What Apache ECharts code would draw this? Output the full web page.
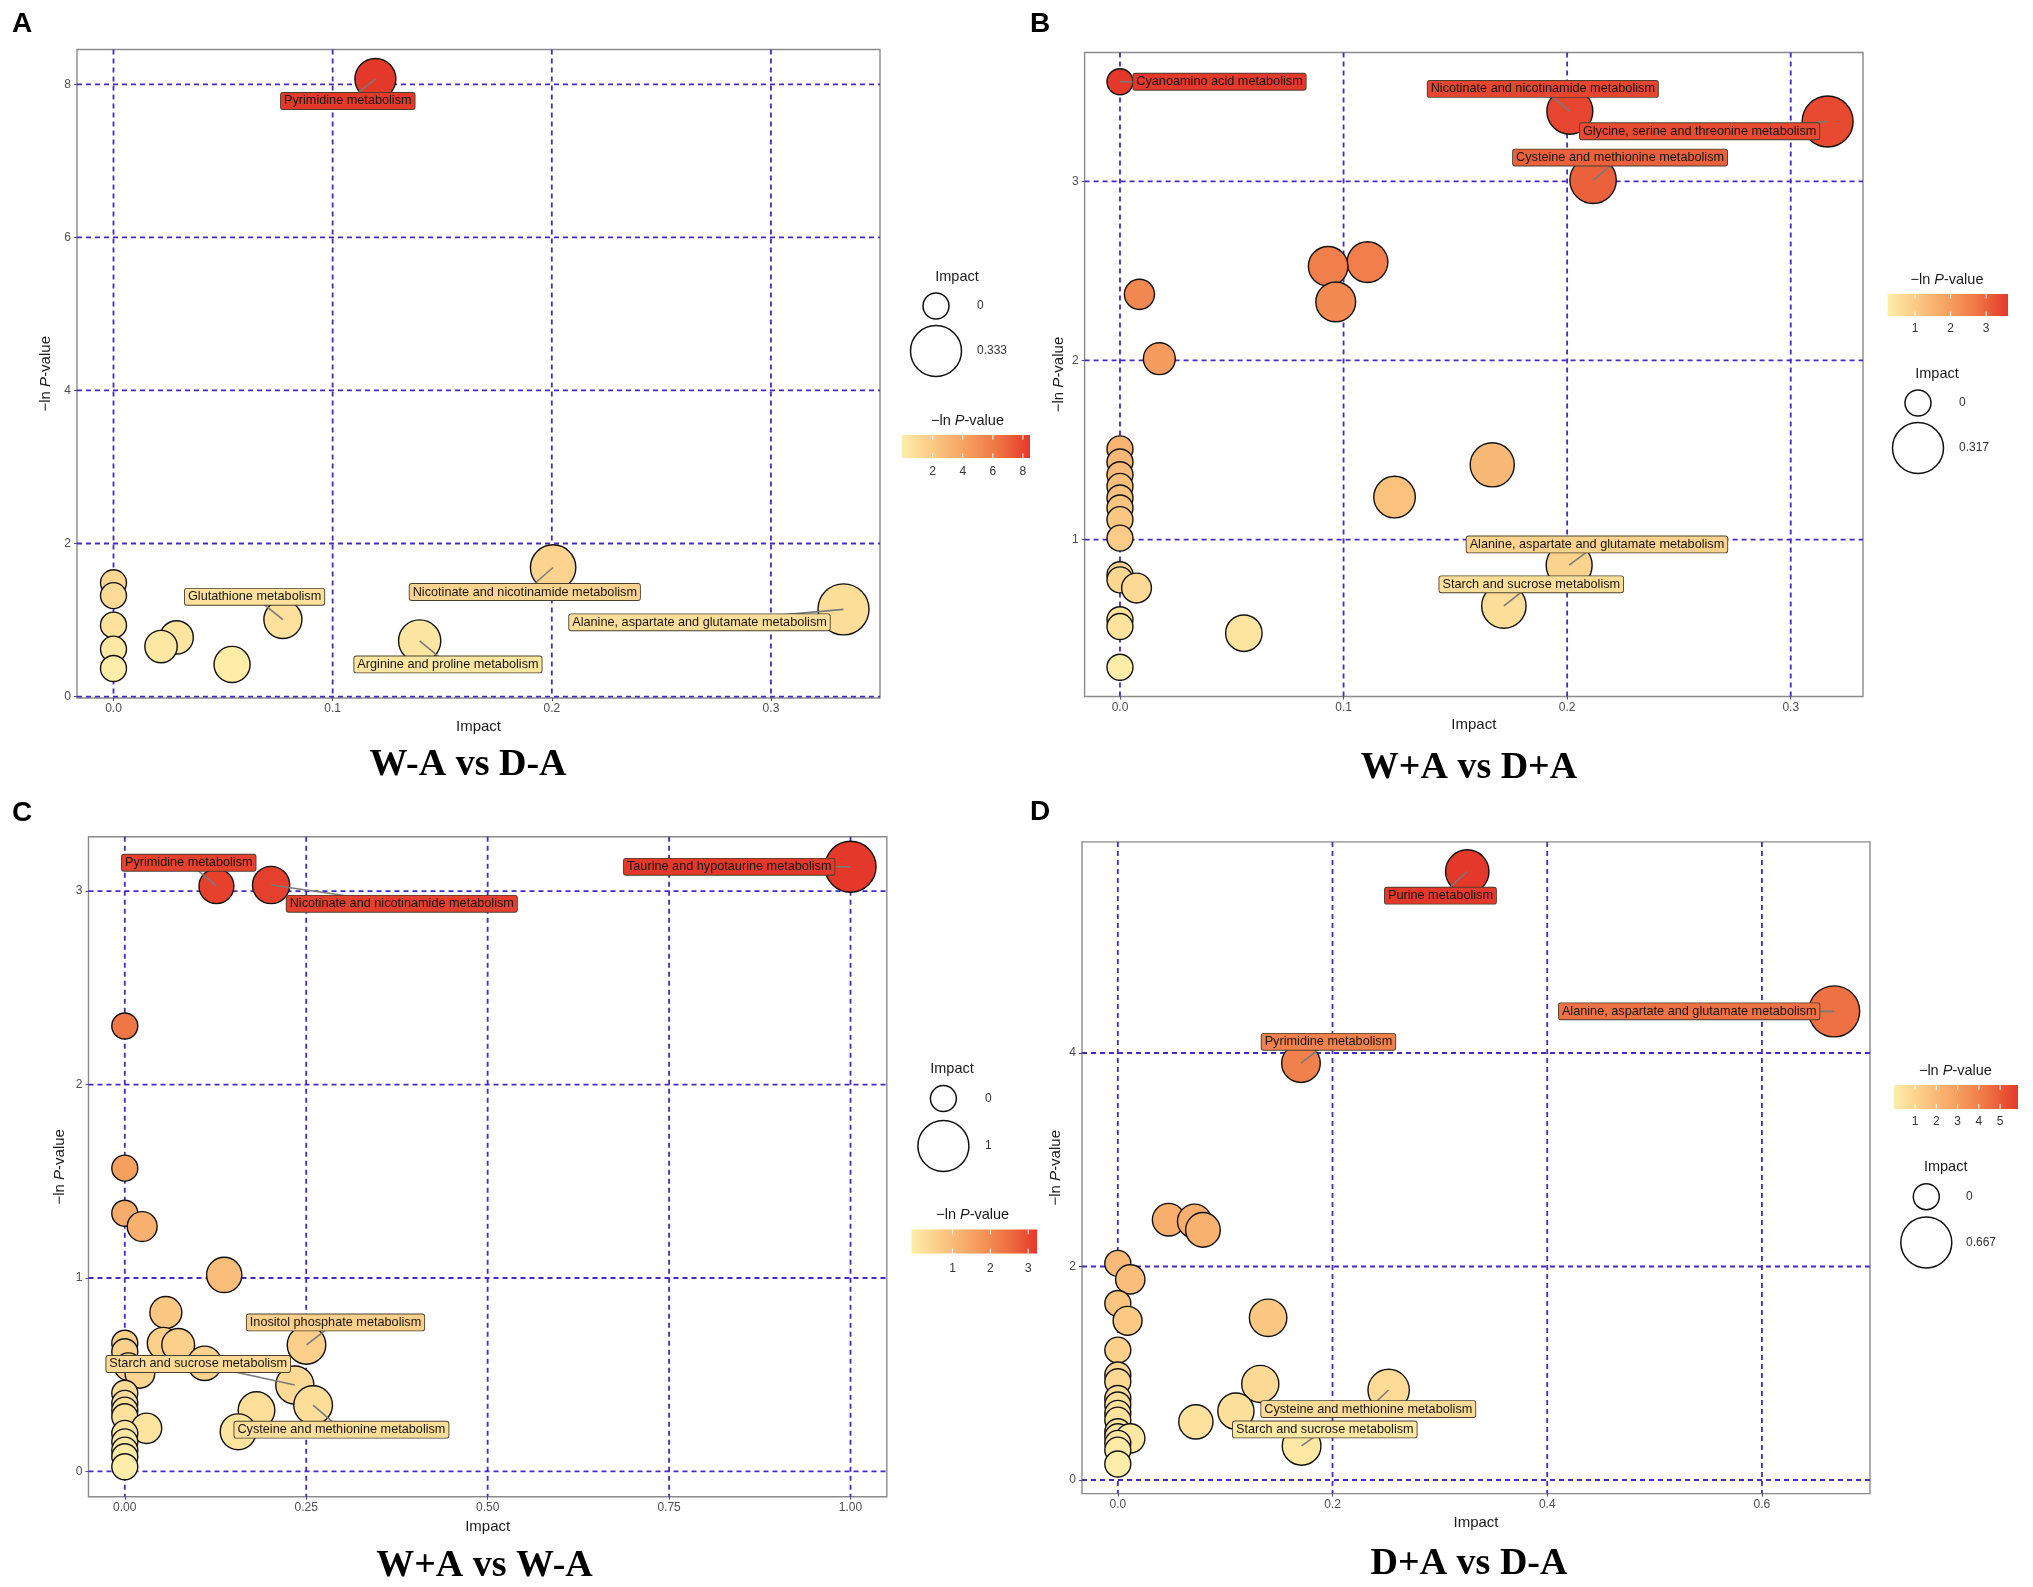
<!DOCTYPE html>
<html><head><meta charset="utf-8">
<script src="https://cdn.jsdelivr.net/npm/echarts@6/dist/echarts.min.js"></script>
<style>html,body{margin:0;padding:0;background:#fff}#c{width:2033px;height:1587px}</style>
</head><body><div id="c"></div>
<script>
// ---------------- DATA ----------------
// Panel A: W-A vs D-A
const aImpact = [0.1195, 0.2006, 0, 0, 0.3331, 0.0773, 0, 0.0288, 0.1397, 0.0217, 0, 0.0541, 0];
const aLnp    = [8.07, 1.686, 1.486, 1.319, 1.139, 1.006, 0.933, 0.773, 0.726, 0.653, 0.620, 0.420, 0.366];
const aNames  = ['Pyrimidine metabolism', 'Nicotinate and nicotinamide metabolism', '', '', 'Alanine, aspartate and glutamate metabolism', 'Glutathione metabolism', '', '', 'Arginine and proline metabolism', '', '', '', ''];
const aXTicks = [0, 0.1, 0.2, 0.3];
const aYTicks = [0, 2, 4, 6, 8];
const aSizeKeys = [0, 0.333];
const aColorTicks = [2, 4, 6, 8];
const aTitle = 'W-A vs D-A';

// Panel B: W+A vs D+A
const bImpact = [0, 0.2012, 0.3165, 0.2116, 0.1107, 0.0931, 0.0087, 0.0965, 0.0176, 0, 0, 0.1665, 0, 0, 0.1228, 0, 0, 0, 0, 0.2009, 0, 0, 0.0074, 0.1717, 0, 0, 0.0554, 0];
const bLnp    = [3.556, 3.391, 3.334, 3.006, 2.549, 2.526, 2.369, 2.327, 2.010, 1.506, 1.433, 1.417, 1.362, 1.297, 1.237, 1.232, 1.176, 1.111, 1.008, 0.857, 0.803, 0.775, 0.729, 0.629, 0.552, 0.514, 0.477, 0.287];
const bNames  = ['Cyanoamino acid metabolism', 'Nicotinate and nicotinamide metabolism', 'Glycine, serine and threonine metabolism', 'Cysteine and methionine metabolism', '', '', '', '', '', '', '', '', '', '', '', '', '', '', '', 'Alanine, aspartate and glutamate metabolism', '', '', '', 'Starch and sucrose metabolism', '', '', '', ''];
const bXTicks = [0, 0.1, 0.2, 0.3];
const bYTicks = [1, 2, 3];
const bSizeKeys = [0, 0.317];
const bColorTicks = [1, 2, 3];
const bTitle = 'W+A vs D+A';

// Panel C: W+A vs W-A
const cImpact = [1.0, 0.2016, 0.1263, 0, 0, 0, 0.024, 0.137, 0.0566, 0, 0.0529, 0.2504, 0.0736, 0, 0.110, 0.005, 0.0208, 0.2343, 0, 0, 0.2595, 0.1815, 0, 0, 0.030, 0.1562, 0, 0, 0, 0, 0];
const cLnp    = [3.126, 3.032, 3.026, 2.303, 1.568, 1.335, 1.266, 1.016, 0.822, 0.663, 0.663, 0.654, 0.654, 0.619, 0.559, 0.541, 0.507, 0.447, 0.404, 0.352, 0.343, 0.317, 0.317, 0.283, 0.223, 0.205, 0.197, 0.153, 0.110, 0.076, 0.024];
const cNames  = ['Taurine and hypotaurine metabolism', 'Nicotinate and nicotinamide metabolism', 'Pyrimidine metabolism', '', '', '', '', '', '', '', '', 'Inositol phosphate metabolism', '', '', '', '', '', 'Starch and sucrose metabolism', '', '', 'Cysteine and methionine metabolism', '', '', '', '', '', '', '', '', '', ''];
const cXTicks = [0, 0.25, 0.5, 0.75, 1.0];
const cYTicks = [0, 1, 2, 3];
const cSizeKeys = [0, 1];
const cColorTicks = [1, 2, 3];
const cTitle = 'W+A vs W-A';

// Panel D: D+A vs D-A
const dImpact = [0.3255, 0.6673, 0.1706, 0.0474, 0.0715, 0.0793, 0, 0.0116, 0, 0.14, 0.0091, 0, 0, 0, 0.1327, 0.2523, 0, 0, 0.11, 0, 0, 0.0727, 0, 0, 0.0116, 0, 0.1712, 0, 0];
const dLnp    = [5.70, 4.39, 3.905, 2.438, 2.424, 2.343, 2.029, 1.879, 1.654, 1.519, 1.491, 1.217, 0.983, 0.92, 0.90, 0.843, 0.764, 0.702, 0.645, 0.624, 0.561, 0.545, 0.452, 0.405, 0.39, 0.343, 0.319, 0.28, 0.15];
const dNames  = ['Purine metabolism', 'Alanine, aspartate and glutamate metabolism', 'Pyrimidine metabolism', '', '', '', '', '', '', '', '', '', '', '', '', 'Cysteine and methionine metabolism', '', '', '', '', '', '', '', '', '', '', 'Starch and sucrose metabolism', '', ''];
const dXTicks = [0, 0.2, 0.4, 0.6];
const dYTicks = [0, 2, 4];
const dSizeKeys = [0, 0.667];
const dColorTicks = [1, 2, 3, 4, 5];
const dTitle = 'D+A vs D-A';

// ---------------- STYLE / LAYOUT ----------------
const colorStops = ['#FEEDA8', '#FBC883', '#F6A060', '#EF7444', '#E4392A'];
const gridColor = '#4628c8';
const SANS = '"Liberation Sans", Arial, Helvetica, sans-serif';
const SERIF = '"Liberation Serif", "Times New Roman", serif';
const DMIN = 26, DMAX = 51;

const layouts = [
  { letter: 'A', letterPos: [12, 24.5], grid: { left: 77, top: 49.5, width: 803, height: 648.5 },
    xDec: 1, yNameGap: 24, xNameGap: 21, titlePos: [468, 765],
    labelOffsets: [[-27.6, 22], [-28.3, 24.5], [-144, 13], [-28.3, -22.7], [28.3, 23.5]],
    size: { title: [957, 277], cx: 936, ys: [306, 351], lx: 977 },
    cbar: { title: [967.5, 420.5], x: 902, y: 435, w: 128, h: 23, ly: 471.7, inset: 6 } },
  { letter: 'B', letterPos: [1030, 24.5], grid: { left: 1084.6, top: 52.5, width: 778.4, height: 644 },
    xDec: 1, yNameGap: 18.5, xNameGap: 20.5, titlePos: [1469, 768],
    labelOffsets: [[99.5, 0], [-27, -22.4], [-128, 9.7], [27, -22.7], [27.8, -20.7], [27.4, -21.7]],
    size: { title: [1937, 374], cx: 1918, ys: [403, 448], lx: 1959 },
    cbar: { title: [1947, 279.6], x: 1887.6, y: 294, w: 120.4, h: 22, ly: 329, inset: 2 } },
  { letter: 'C', letterPos: [12, 813], grid: { left: 88.5, top: 836.8, width: 798.3, height: 660 },
    xDec: 2, yNameGap: 21, xNameGap: 23, titlePos: [484.5, 1566.5],
    labelOffsets: [[-121.3, 0], [130.7, 18.8], [-27.7, -23.4], [29, -22.5], [-96.6, -21], [28.3, 24.6]],
    size: { title: [952, 1068.6], cx: 943.4, ys: [1098.6, 1146], lx: 985 },
    cbar: { title: [972.7, 1214.5], x: 911.5, y: 1229.5, w: 125.5, h: 24, ly: 1268.3, inset: 4 } },
  { letter: 'D', letterPos: [1030, 812], grid: { left: 1082, top: 841.9, width: 788, height: 651.7 },
    xDec: 1, yNameGap: 19, xNameGap: 22, titlePos: [1469, 1564.5],
    labelOffsets: [[-26.8, 24.2], [-145, 0], [27.5, -21.3], [-20.4, 19.1], [23.2, -16.5]],
    size: { title: [1945.7, 1167], cx: 1926.3, ys: [1196.7, 1242.5], lx: 1966 },
    cbar: { title: [1955.4, 1071], x: 1894, y: 1085, w: 124, h: 24, ly: 1121.5, inset: 3 } }
];

const panels = [
  { impact: aImpact, lnp: aLnp, names: aNames, xTicks: aXTicks, yTicks: aYTicks, sizeKeys: aSizeKeys, colorTicks: aColorTicks, title: aTitle },
  { impact: bImpact, lnp: bLnp, names: bNames, xTicks: bXTicks, yTicks: bYTicks, sizeKeys: bSizeKeys, colorTicks: bColorTicks, title: bTitle },
  { impact: cImpact, lnp: cLnp, names: cNames, xTicks: cXTicks, yTicks: cYTicks, sizeKeys: cSizeKeys, colorTicks: cColorTicks, title: cTitle },
  { impact: dImpact, lnp: dLnp, names: dNames, xTicks: dXTicks, yTicks: dYTicks, sizeKeys: dSizeKeys, colorTicks: dColorTicks, title: dTitle }
];

// ---------------- HELPERS ----------------
function hexToRgb(h) { const n = parseInt(h.slice(1), 16); return [(n >> 16) & 255, (n >> 8) & 255, n & 255]; }
const stopRgb = colorStops.map(hexToRgb);
function colorFor(v, vmin, vmax) {
  let t = (v - vmin) / (vmax - vmin); t = Math.max(0, Math.min(1, t));
  const s = t * (stopRgb.length - 1); const i = Math.min(Math.floor(s), stopRgb.length - 2); const f = s - i;
  const c = stopRgb[i].map((a, k) => Math.round(a + (stopRgb[i + 1][k] - a) * f));
  return 'rgb(' + c.join(',') + ')';
}
function expand(arr) { const mn = Math.min(...arr), mx = Math.max(...arr); const e = (mx - mn) * 0.05; return [mn - e, mx + e]; }
function sizeFor(v, smax) { return DMIN + (DMAX - DMIN) * Math.sqrt(Math.max(0, v) / smax); }
const pValName = '{a|\u2212ln }{i|P}{a|-value}';

const option = { animation: false, backgroundColor: '#fff', grid: [], xAxis: [], yAxis: [], series: [], graphic: [] };

panels.forEach((p, i) => {
  const L = layouts[i];
  const xr = expand(p.impact), yr = expand(p.lnp);
  const vmin = Math.min(...p.lnp), vmax = Math.max(...p.lnp);
  const smax = p.sizeKeys[p.sizeKeys.length - 1];

  option.grid.push(Object.assign({ show: true, borderColor: '#8a8a8a', borderWidth: 1.4, backgroundColor: '#fff', containLabel: false }, L.grid));
  option.xAxis.push({
    type: 'value', gridIndex: i, min: xr[0], max: xr[1],
    axisLine: { show: false, onZero: false },
    axisTick: { show: true, length: 3, lineStyle: { color: '#555', width: 1 }, customValues: p.xTicks },
    axisLabel: { customValues: p.xTicks, formatter: v => Number(v).toFixed(L.xDec), fontFamily: SANS, fontSize: 12, color: '#4d4d4d', margin: 5, hideOverlap: false },
    splitLine: { show: false },
    name: 'Impact', nameLocation: 'middle', nameGap: L.xNameGap,
    nameTextStyle: { fontFamily: SANS, fontSize: 15, color: '#1a1a1a' }
  });
  option.yAxis.push({
    type: 'value', gridIndex: i, min: yr[0], max: yr[1],
    axisLine: { show: false, onZero: false },
    axisTick: { show: true, length: 3, lineStyle: { color: '#555', width: 1 }, customValues: p.yTicks },
    axisLabel: { customValues: p.yTicks, formatter: v => String(Math.round(v)), fontFamily: SANS, fontSize: 12, color: '#4d4d4d', margin: 6, hideOverlap: false },
    splitLine: { show: false },
    name: pValName, nameLocation: 'middle', nameGap: L.yNameGap, nameRotate: 90,
    nameTextStyle: { fontFamily: SANS, fontSize: 15, color: '#1a1a1a',
      rich: { a: { fontFamily: SANS, fontSize: 15, color: '#1a1a1a' }, i: { fontFamily: SANS, fontSize: 15, fontStyle: 'italic', color: '#1a1a1a' } } }
  });

  // dashed grid lines at tick values (vertical then horizontal)
  const gridLineStyle = { stroke: gridColor, lineWidth: 1.8, lineDash: [5, 4] };
  option.series.push({
    type: 'custom', xAxisIndex: i, yAxisIndex: i, z: 1, silent: true,
    data: p.xTicks.map(v => [v, yr[0]]),
    renderItem: (params, api) => {
      const cs = params.coordSys; const pt = api.coord([api.value(0), api.value(1)]);
      return { type: 'line', shape: { x1: pt[0], y1: cs.y, x2: pt[0], y2: cs.y + cs.height }, style: gridLineStyle };
    }
  });
  option.series.push({
    type: 'custom', xAxisIndex: i, yAxisIndex: i, z: 1, silent: true,
    data: p.yTicks.map(v => [xr[0], v]),
    renderItem: (params, api) => {
      const cs = params.coordSys; const pt = api.coord([api.value(0), api.value(1)]);
      return { type: 'line', shape: { x1: cs.x, y1: pt[1], x2: cs.x + cs.width, y2: pt[1] }, style: gridLineStyle };
    }
  });

  // bubbles
  option.series.push({
    type: 'scatter', xAxisIndex: i, yAxisIndex: i, z: 2, silent: true,
    data: p.impact.map((x, j) => [x, p.lnp[j]]),
    symbol: 'circle',
    symbolSize: v => sizeFor(v[0], smax),
    itemStyle: { color: prm => colorFor(prm.value[1], vmin, vmax), borderColor: '#111', borderWidth: 1.4, opacity: 1 },
    emphasis: { disabled: true }
  });

  // labels (ggrepel-like boxes with leader lines)
  const labeled = [];
  p.names.forEach((n, j) => { if (n) labeled.push([p.impact[j], p.lnp[j], j]); });
  option.series.push({
    type: 'custom', xAxisIndex: i, yAxisIndex: i, z: 3, silent: true,
    data: labeled,
    renderItem: (params, api) => {
      const j = api.value(2); const pt = api.coord([api.value(0), api.value(1)]);
      const off = L.labelOffsets[params.dataIndex];
      const col = colorFor(p.lnp[j], vmin, vmax);
      return { type: 'group', children: [
        { type: 'line', shape: { x1: pt[0], y1: pt[1], x2: pt[0] + off[0], y2: pt[1] + off[1] }, style: { stroke: '#7a7a7a', lineWidth: 1.6 } },
        { type: 'text', x: pt[0] + off[0], y: pt[1] + off[1], style: {
          text: p.names[j], font: '12.7px ' + SANS, fill: '#151515', align: 'center', verticalAlign: 'middle',
          backgroundColor: col, borderColor: '#4a4030', borderWidth: 0.9, borderRadius: 2, padding: [2, 3, 1, 3] } }
      ] };
    }
  });

  // panel letter and subtitle
  option.graphic.push({ type: 'text', x: L.letterPos[0], y: L.letterPos[1], style: { text: L.letter, font: 'bold 28px ' + SANS, fill: '#000', align: 'left', verticalAlign: 'middle' } });
  option.graphic.push({ type: 'text', x: L.titlePos[0], y: L.titlePos[1], style: { text: p.title, font: 'bold 38px ' + SERIF, fill: '#000', align: 'center', verticalAlign: 'middle' } });

  // size legend
  const S = L.size;
  option.graphic.push({ type: 'text', x: S.title[0], y: S.title[1], style: { text: 'Impact', font: '14.5px ' + SANS, fill: '#1a1a1a', align: 'center', verticalAlign: 'middle' } });
  p.sizeKeys.forEach((k, m) => {
    option.graphic.push({ type: 'circle', shape: { cx: S.cx, cy: S.ys[m], r: sizeFor(k, smax) / 2 }, style: { fill: '#fff', stroke: '#111', lineWidth: 1.5 } });
    option.graphic.push({ type: 'text', x: S.lx, y: S.ys[m], style: { text: String(k), font: '12px ' + SANS, fill: '#333', align: 'left', verticalAlign: 'middle' } });
  });

  // colour bar legend
  const C = L.cbar;
  option.graphic.push({ type: 'text', x: C.title[0], y: C.title[1], style: {
    text: pValName, align: 'center', verticalAlign: 'middle',
    rich: { a: { font: '14.5px ' + SANS, fill: '#1a1a1a' }, i: { font: 'italic 14.5px ' + SANS, fill: '#1a1a1a' } } } });
  option.graphic.push({ type: 'rect', shape: { x: C.x, y: C.y, width: C.w, height: C.h }, style: {
    fill: { type: 'linear', x: 0, y: 0, x2: 1, y2: 0, colorStops: colorStops.map((c, k) => ({ offset: k / (colorStops.length - 1), color: c })) } } });
  p.colorTicks.forEach(t => {
    const tx = C.x + C.inset + (t - vmin) / (vmax - vmin) * (C.w - 2 * C.inset);
    option.graphic.push({ type: 'line', shape: { x1: tx, y1: C.y, x2: tx, y2: C.y + C.h * 0.2 }, style: { stroke: '#fff', lineWidth: 1 } });
    option.graphic.push({ type: 'line', shape: { x1: tx, y1: C.y + C.h * 0.8, x2: tx, y2: C.y + C.h }, style: { stroke: '#fff', lineWidth: 1 } });
    option.graphic.push({ type: 'text', x: tx, y: C.ly, style: { text: String(t), font: '12px ' + SANS, fill: '#333', align: 'center', verticalAlign: 'middle' } });
  });
});

const chart = echarts.init(document.getElementById('c'), null, { renderer: 'canvas' });
chart.setOption(option);
</script>
</body></html>
